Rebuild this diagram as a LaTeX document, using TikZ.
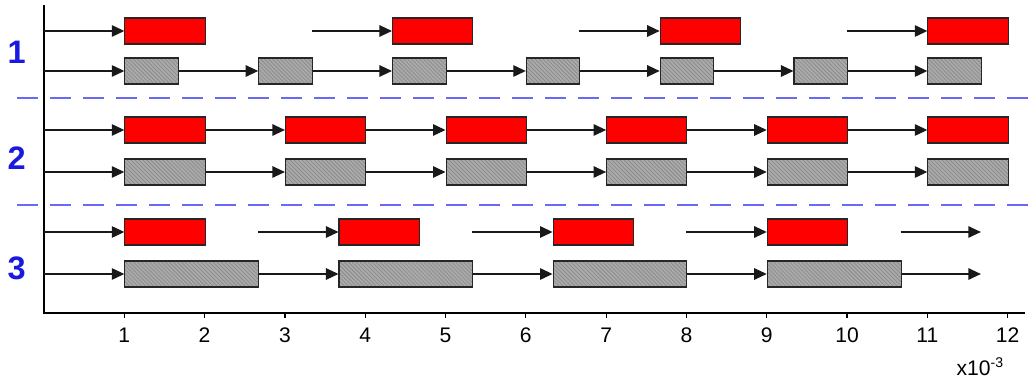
\documentclass[tikz,border=0pt]{standalone}
\usepackage{fontspec}
\setmainfont{Liberation Sans}
\usetikzlibrary{arrows.meta, patterns.meta}
\definecolor{sepblue}{RGB}{105,105,245}
\definecolor{numblue}{RGB}{25,25,225}
\definecolor{hatchgray}{RGB}{170,170,170}

\begin{document}
\begin{tikzpicture}[x=1.606cm, y=1cm]
\tikzset{
  jobbox/.style={rectangle, draw=black!85, line width=.6pt, minimum height=.52cm, inner sep=0pt, anchor=west},
  rbox/.style={jobbox, fill=red, minimum width=#1*1.606cm},
  gbox/.style={jobbox, preaction={fill=hatchgray}, pattern={Lines[angle=-45, distance=1.6pt, line width=.45pt]}, pattern color=black!45, minimum width=#1*1.606cm},
  flow/.style={-{Triangle[length=2.5mm, width=2.3mm]}, line width=.7pt, black!90},
  sepline/.style={sepblue, line width=1.1pt, dash pattern=on .42cm off .24cm},
  ticklbl/.style={font=\fontsize{12}{14}\selectfont},
  caseno/.style={numblue, font=\fontsize{18.5}{20}\selectfont\bfseries}
}
\useasboundingbox (-0.548,-1.40) rectangle (12.254,6.26);

% axes
\draw[line width=.8pt] (0,6.16) -- (0,0) -- (12.22,0);
\foreach \t in {1,...,12}{
  \draw[line width=.7pt] (\t,0) -- (\t,-.1);
  \node[ticklbl] at (\t,-.44) {\t};
}
\node (unit) [ticklbl] at (11.66,-1.08) {x10\textsuperscript{-3}};

% separators and case numbers
\draw[sepline] (-0.336,4.30) -- (12.254,4.30);
\draw[sepline] (-0.336,2.16) -- (12.254,2.16);
\node (c1) [caseno] at (-0.34,5.22) {1};
\node (c2) [caseno] at (-0.34,3.10) {2};
\node (c3) [caseno] at (-0.34,0.90) {3};

%% case 1
\node (r11) [rbox=1] at (1,5.64) {};
\node (r12) [rbox=1] at (4.333,5.64) {};
\node (r13) [rbox=1] at (7.667,5.64) {};
\node (r14) [rbox=1] at (11,5.64) {};
\coordinate (a11) at (0,5.64);
\coordinate (a12) at (3.333,5.64);
\coordinate (a13) at (6.667,5.64);
\coordinate (a14) at (10,5.64);

\node (g11) [gbox=.667] at (1,4.84) {};
\node (g12) [gbox=.667] at (2.667,4.84) {};
\node (g13) [gbox=.667] at (4.333,4.84) {};
\node (g14) [gbox=.667] at (6,4.84) {};
\node (g15) [gbox=.667] at (7.667,4.84) {};
\node (g16) [gbox=.667] at (9.333,4.84) {};
\node (g17) [gbox=.667] at (11,4.84) {};
\coordinate (b11) at (0,4.84);

\draw[flow] (a11) -- (r11);
\draw[flow] (a12) -- (r12);
\draw[flow] (a13) -- (r13);
\draw[flow] (a14) -- (r14);
\draw[flow] (b11) -- (g11);
\draw[flow] (g11) -- (g12);
\draw[flow] (g12) -- (g13);
\draw[flow] (g13) -- (g14);
\draw[flow] (g14) -- (g15);
\draw[flow] (g15) -- (g16);
\draw[flow] (g16) -- (g17);

%% case 2
\node (r21) [rbox=1] at (1,3.66) {};
\node (r22) [rbox=1] at (3,3.66) {};
\node (r23) [rbox=1] at (5,3.66) {};
\node (r24) [rbox=1] at (7,3.66) {};
\node (r25) [rbox=1] at (9,3.66) {};
\node (r26) [rbox=1] at (11,3.66) {};
\coordinate (a21) at (0,3.66);

\node (g21) [gbox=1] at (1,2.82) {};
\node (g22) [gbox=1] at (3,2.82) {};
\node (g23) [gbox=1] at (5,2.82) {};
\node (g24) [gbox=1] at (7,2.82) {};
\node (g25) [gbox=1] at (9,2.82) {};
\node (g26) [gbox=1] at (11,2.82) {};
\coordinate (b21) at (0,2.82);

\draw[flow] (a21) -- (r21);
\draw[flow] (r21) -- (r22);
\draw[flow] (r22) -- (r23);
\draw[flow] (r23) -- (r24);
\draw[flow] (r24) -- (r25);
\draw[flow] (r25) -- (r26);
\draw[flow] (b21) -- (g21);
\draw[flow] (g21) -- (g22);
\draw[flow] (g22) -- (g23);
\draw[flow] (g23) -- (g24);
\draw[flow] (g24) -- (g25);
\draw[flow] (g25) -- (g26);

%% case 3
\node (r31) [rbox=1] at (1,1.62) {};
\node (r32) [rbox=1] at (3.667,1.62) {};
\node (r33) [rbox=1] at (6.333,1.62) {};
\node (r34) [rbox=1] at (9,1.62) {};
\coordinate (a31) at (0,1.62);
\coordinate (a32) at (2.667,1.62);
\coordinate (a33) at (5.333,1.62);
\coordinate (a34) at (8,1.62);
\coordinate (a35) at (10.667,1.62);
\coordinate (e31) at (11.667,1.62);

\node (g31) [gbox=1.667] at (1,0.78) {};
\node (g32) [gbox=1.667] at (3.667,0.78) {};
\node (g33) [gbox=1.667] at (6.333,0.78) {};
\node (g34) [gbox=1.667] at (9,0.78) {};
\coordinate (b31) at (0,0.78);
\coordinate (e32) at (11.667,0.78);

\draw[flow] (a31) -- (r31);
\draw[flow] (a32) -- (r32);
\draw[flow] (a33) -- (r33);
\draw[flow] (a34) -- (r34);
\draw[flow] (a35) -- (e31);
\draw[flow] (b31) -- (g31);
\draw[flow] (g31) -- (g32);
\draw[flow] (g32) -- (g33);
\draw[flow] (g33) -- (g34);
\draw[flow] (g34) -- (e32);

\end{tikzpicture}
\end{document}
